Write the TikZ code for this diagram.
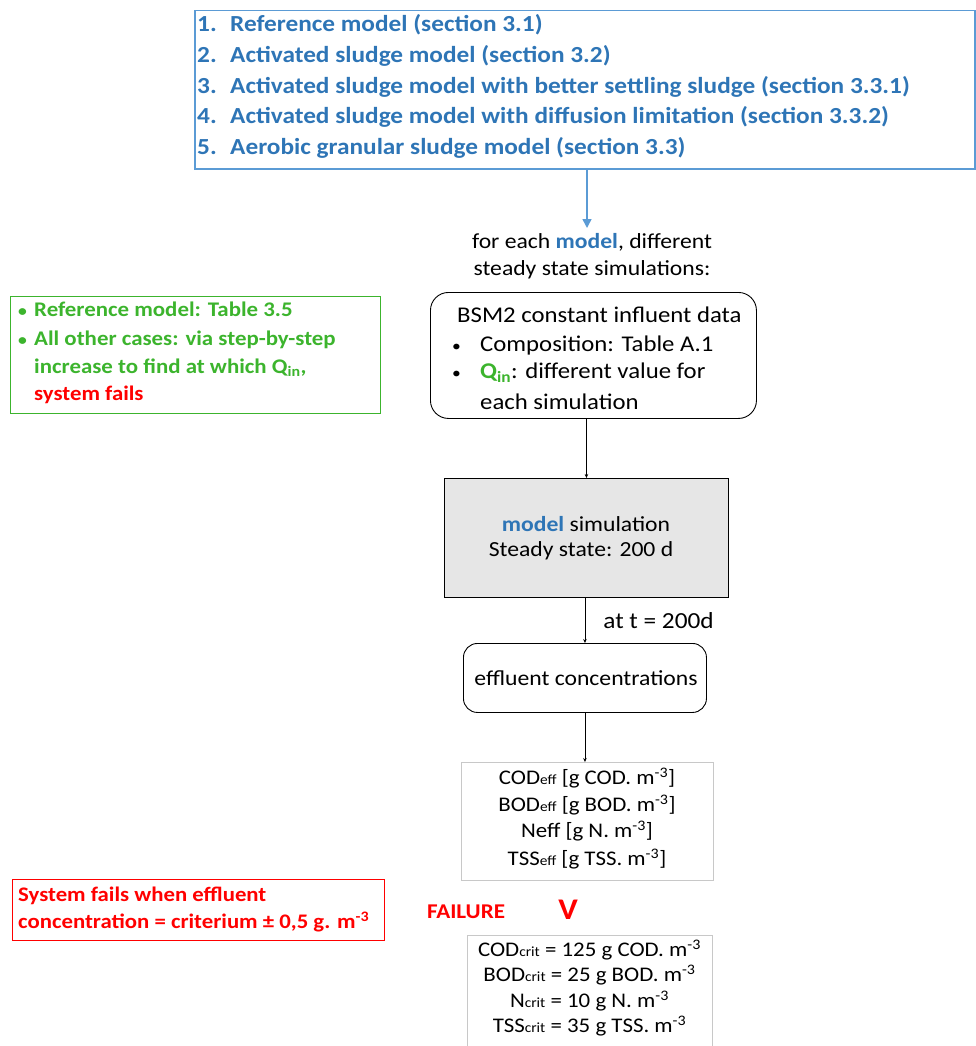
\documentclass[tikz,border=0pt]{standalone}
\usepackage{fontspec}
\setmainfont{Carlito}[FakeStretch=1.1]
\usetikzlibrary{arrows.meta}
\definecolor{tblue}{RGB}{46,117,182}
\definecolor{bblue}{RGB}{91,155,213}
\definecolor{tgreen}{RGB}{60,180,45}
\definecolor{tred}{RGB}{255,0,0}
\definecolor{gfill}{RGB}{230,230,230}
\definecolor{lgray}{RGB}{200,200,200}
\newcommand\smtxt[1]{{\fontsize{14}{14}\selectfont #1}}
\newcommand\mthree{\textsuperscript{-3}}
\newcommand\smbullet{{\fontsize{16}{16}\selectfont\textbullet}}
\begin{document}
\begin{tikzpicture}[x=1pt,y=-1pt,
  txt/.style={inner sep=0pt, anchor=west, font=\fontsize{22.5}{24}\selectfont},
  ctxt/.style={inner sep=0pt, font=\fontsize{21.5}{24}\selectfont},
  btxt/.style={inner sep=0pt, anchor=west, font=\fontsize{23}{24}\selectfont\bfseries, text=tblue},
  gtxt/.style={inner sep=0pt, anchor=west, font=\fontsize{20.8}{24}\selectfont\bfseries, text=tgreen},
  rtxt/.style={inner sep=0pt, anchor=west, font=\fontsize{20.7}{24}\selectfont\bfseries, text=tred},
  stxt/.style={inner sep=0pt, font=\fontsize{20.8}{22}\selectfont},
  boxnode/.style={inner sep=0pt, anchor=north west},
  arr/.style={draw=black, line width=0.8pt, -{Stealth[length=4pt,width=3.5pt]}}
]
\useasboundingbox (0,0) rectangle (976,1046);

% top blue box
\node[boxnode, draw=bblue, line width=1.5pt, minimum width=780, minimum height=158] (models) at (194,10) {};
\node[btxt] (m1) at (197,25) {\makebox[33pt][l]{1.}Reference model (section 3.1)};
\node[btxt] (m2) at (197,56) {\makebox[33pt][l]{2.}Activated sludge model (section 3.2)};
\node[btxt] (m3) at (197,87) {\makebox[33pt][l]{3.}Activated sludge model with better settling sludge (section 3.3.1)};
\node[btxt] (m4) at (197,117) {\makebox[33pt][l]{4.}Activated sludge model with diffusion limitation (section 3.3.2)};
\node[btxt] (m5) at (197,148) {\makebox[33pt][l]{5.}Aerobic granular sludge model (section 3.3)};

\coordinate (a1e) at (587,228);
\draw[bblue, line width=1.5pt, -{Triangle[length=9pt,width=9pt]}] (models.south -| a1e) -- (a1e);

\node[ctxt] (fe1) at (592,242) {for each {\bfseries\color{tblue}model}, different};
\node[ctxt] (fe2) at (592,270) {steady state simulations:};

% green note
\node[boxnode, draw=tgreen, line width=1.3pt, minimum width=370, minimum height=117] (gnote) at (10,296) {};
\node[gtxt] (g1) at (18,309) {\makebox[16pt][l]{\smbullet}Reference model: Table 3.5};
\node[gtxt] (g2) at (18,340) {\makebox[16pt][l]{\smbullet}All other cases: via step-by-step};
\node[gtxt] (g3) at (34,368) {increase to find at which Q\textsubscript{in},};
\node[rtxt] (g4) at (34,395) {system fails};

% BSM2 box
\node[boxnode, draw=black, line width=0.9pt, rounded corners=18pt, minimum width=326, minimum height=126] (bsm) at (430,292) {};
\node[txt] (b1) at (457,315) {BSM2 constant influent data};
\node[txt] (b2) at (452,345) {\makebox[28pt][l]{\smbullet}Composition: Table A.1};
\node[txt] (b3) at (452,373) {\makebox[28pt][l]{\smbullet}{\bfseries\color{tgreen}Q\textsubscript{in}}: different value for};
\node[txt] (b4) at (480,402) {each simulation};

% model simulation
\node[boxnode, draw=black, fill=gfill, line width=0.9pt, minimum width=284, minimum height=119] (sim) at (444,478) {};
\node[ctxt] (s1) at (586,524) {{\bfseries\color{tblue}model} simulation};
\node[ctxt] (s2) at (581,551) {Steady state: 200 d};

\draw[arr] (bsm.south -| sim.north) -- (sim.north);

% effluent concentrations
\node[boxnode, draw=black, line width=0.9pt, rounded corners=14pt, minimum width=243, minimum height=69] (effc) at (463,643) {};
\node[ctxt] (e1) at (586,678) {effluent concentrations};
\draw[arr] (sim.south -| effc.north) -- node[ctxt, anchor=west, xshift=18pt, font=\fontsize{23}{24}\selectfont] (tlab) {at t = 200d} (effc.north);

% effluent values
\node[boxnode, draw=lgray, line width=0.9pt, minimum width=252, minimum height=118] (effv) at (461,762) {};
\node[stxt] (v1) at (587,778) {COD\smtxt{eff} [g COD. m\mthree]};
\node[stxt] (v2) at (587,805) {BOD\smtxt{eff} [g BOD. m\mthree]};
\node[stxt] (v3) at (587,831) {Neff [g N. m\mthree]};
\node[stxt] (v4) at (587,859) {TSS\smtxt{eff} [g TSS. m\mthree]};
\draw[arr] (effc.south) -- (effc.south |- effv.north);

% failure
\node[inner sep=0pt, font=\fontsize{21}{24}\selectfont\bfseries, text=tred] (fail) at (466,912) {FAILURE};
\node[inner sep=0pt, font=\fontsize{30}{30}\selectfont\bfseries, text=tred] (vmark) at (568,910) {V};

% criteria
\node[boxnode, draw=lgray, line width=0.9pt, minimum width=245, minimum height=120] (crit) at (467,935) {};
\node[stxt] (c1) at (589.5,950) {COD\smtxt{crit} = 125 g COD. m\mthree};
\node[stxt] (c2) at (589.5,975) {BOD\smtxt{crit} = 25 g BOD. m\mthree};
\node[stxt] (c3) at (589.5,1001) {N\smtxt{crit} = 10 g N. m\mthree};
\node[stxt] (c4) at (589.5,1026) {TSS\smtxt{crit} = 35 g TSS. m\mthree};

% red note
\node[boxnode, draw=tred, line width=1.3pt, minimum width=372, minimum height=61] (rnote) at (12,879) {};
\node[rtxt] (r1) at (18,896) {System fails when effluent};
\node[rtxt] (r2) at (18,922) {concentration = criterium ± 0,5 g. m\mthree};
\end{tikzpicture}
\end{document}
